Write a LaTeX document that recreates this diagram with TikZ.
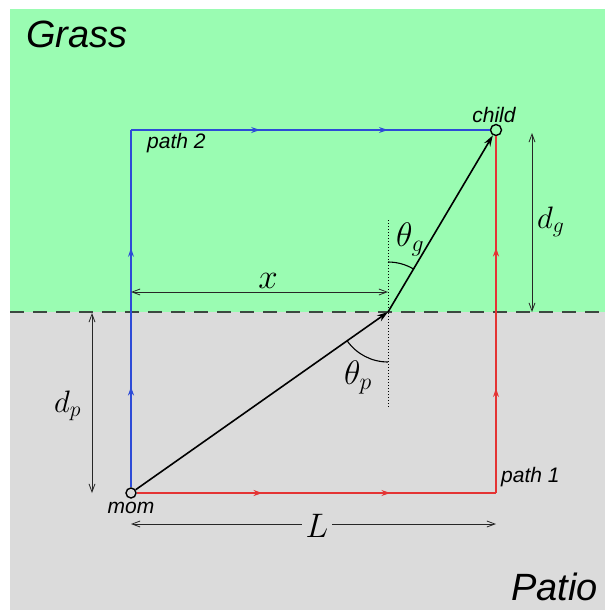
\documentclass[tikz,border=0pt]{standalone}
\usepackage{fix-cm}
\usepackage[no-math]{fontspec}
\newfontfamily\labfont{Liberation Sans}
\usetikzlibrary{arrows.meta,decorations.markings}
\definecolor{grass}{RGB}{154,252,178}
\definecolor{patio}{RGB}{219,219,219}
\definecolor{pathblue}{RGB}{45,75,215}
\definecolor{pathred}{RGB}{228,52,52}
\definecolor{edgegray}{RGB}{60,72,64}
\tikzset{
  bigtext/.style={font=\labfont\itshape\fontsize{38}{40}\selectfont},
  smalltext/.style={font=\labfont\itshape\fontsize{21}{24}\selectfont},
  mathtext/.style={font=\fontsize{#1}{#1}\selectfont, inner sep=0pt},
  spot/.style={circle, draw=black, line width=1.4pt, inner sep=0pt, minimum size=10pt},
  route/.style={line width=1.3pt},
  walk/.style={line width=1.6pt, black, -{Stealth[length=11pt,width=7pt]}},
  dim/.style={line width=0.8pt, black!85, {Straight Barb[length=8pt,width=6pt]}-{Straight Barb[length=8pt,width=6pt]}},
  twoarrows/.style n args={2}{postaction={decorate}, decoration={markings,
      mark=at position #1 with {\arrow{Stealth[length=9pt,width=6pt]}},
      mark=at position #2 with {\arrow{Stealth[length=9pt,width=6pt]}}}},
}
\begin{document}
\begin{tikzpicture}[x=1pt,y=-1pt]
\useasboundingbox (0,0) rectangle (605,610);
\fill[white] (0,0) rectangle (605,610);
\fill[grass] (10,9) rectangle (605,312);
\fill[patio] (10,312) rectangle (605,610);

% boundary
\coordinate (bl) at (10,312);
\coordinate (br) at (605,312);
\draw[edgegray, line width=1.6pt, dash pattern=on 14pt off 9pt] (bl) -- (br);

% points
\node[spot] (mom) at (131,493) {};
\node[spot, minimum size=11pt] (child) at (496,130) {};
\coordinate (c1) at (496,493);
\coordinate (c2) at (131,130);
\coordinate (r) at (388,312);

% normal (dotted)
\coordinate (nt) at (388,220);
\coordinate (nb) at (388,408);
\draw[black, line width=1pt, dotted] (nt) -- (nb);

% path 1 (red)
\draw[route, pathred, twoarrows={0.35}{0.706}] (mom) -- (c1);
\draw[route, pathred, twoarrows={0.294}{0.688}] (c1) -- (child);
% path 2 (blue)
\draw[route, pathblue, twoarrows={0.282}{0.670}] (mom) -- (c2);
\draw[route, pathblue, twoarrows={0.36}{0.716}] (c2) -- (child);

% actual walk
\draw[walk] (mom) -- (r);
\draw[walk] (r) -- (child);

% angle arcs
\draw[black, line width=1.1pt] ([shift={(-90:50)}]r) arc[start angle=-90, end angle=-59.3, radius=50];
\draw[black, line width=1.1pt] ([shift={(90:50)}]r) arc[start angle=90, end angle=144.8, radius=50];

% dimensions
\coordinate (xa) at (131,292);
\coordinate (xb) at (388,292);
\draw[dim] (xa) -- (xb);
\coordinate (ga) at (532,133);
\coordinate (gb) at (532,312);
\draw[dim] (ga) -- (gb);
\coordinate (pa) at (92,313);
\coordinate (pb) at (92,493);
\draw[dim] (pa) -- (pb);
\coordinate (la) at (131,524);
\coordinate (lb) at (496,524);
\draw[dim] (la) -- (lb);

% labels
\node[bigtext, anchor=base west, inner sep=0pt] (grasslab) at (26,48) {Grass};
\node[bigtext, anchor=base west, inner sep=0pt] (patiolab) at (511,600) {Patio};
\node[smalltext, anchor=base west, inner sep=0pt] (p2lab) at (147,148) {path 2};
\node[smalltext, anchor=base west, inner sep=0pt] (p1lab) at (501,482) {path 1};
\node[smalltext, anchor=base, inner sep=0pt] (childlab) at (494,122) {child};
\node[smalltext, anchor=base, inner sep=0pt] (momlab) at (131,513) {mom};

\node[mathtext=35, anchor=base] (xlab) at (268,288) {$x$};
\node[mathtext=34, anchor=base, fill=patio, inner xsep=4pt, inner ysep=2pt] (Llab) at (317,537) {$L$};
\node[mathtext=31, anchor=base west] (dglab) at (537,228) {$d_g$};
\node[mathtext=31, anchor=base west] (dplab) at (54,412) {$d_p$};
\node[mathtext=34, anchor=base west] (tglab) at (396,246) {$\theta_g$};
\node[mathtext=34, anchor=base west] (tplab) at (344,384) {$\theta_p$};
\end{tikzpicture}
\end{document}
